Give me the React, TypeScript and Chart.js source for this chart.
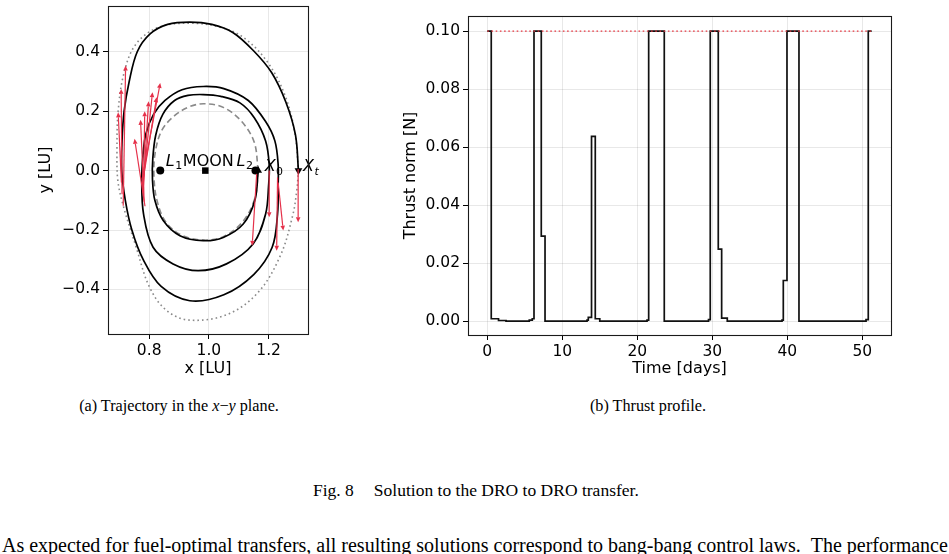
import { useEffect, useRef } from "react";
import { Chart, registerables } from "chart.js";

Chart.register(...registerables);

// ---------- Trajectory in the x–y plane (LU) ----------
const initialDro: [number, number][] = [
  [1.165, 0.0], [1.155, -0.09], [1.115, -0.17], [1.05, -0.222], [0.985, -0.234],
  [0.91, -0.218], [0.855, -0.172], [0.826, -0.1], [0.816, -0.02], [0.82, 0.06],
  [0.842, 0.135], [0.885, 0.185], [0.935, 0.215], [0.985, 0.225], [1.05, 0.212],
  [1.11, 0.165], [1.152, 0.095], [1.165, 0.0],
];

const targetDro: [number, number][] = [
  [1.3, 0.0], [1.294, -0.07], [1.281, -0.15], [1.24, -0.285], [1.165, -0.41],
  [1.06, -0.485], [0.931, -0.503], [0.855, -0.468], [0.8, -0.39], [0.757, -0.26],
  [0.713, -0.118], [0.695, -0.034], [0.692, 0.06], [0.696, 0.2], [0.716, 0.33],
  [0.755, 0.425], [0.83, 0.482], [0.936, 0.496], [1.04, 0.482], [1.12, 0.445],
  [1.2, 0.36], [1.258, 0.245], [1.289, 0.12], [1.3, 0.0],
];

const transferPath: [number, number][] = [
  // first revolution
  [1.165, 0.0], [1.154, -0.1], [1.115, -0.18], [1.048, -0.225], [0.981, -0.236],
  [0.903, -0.219], [0.847, -0.168], [0.819, -0.1], [0.811, -0.03], [0.812, 0.04],
  [0.822, 0.12], [0.846, 0.19], [0.885, 0.236], [0.93, 0.253], [0.981, 0.256],
  [1.04, 0.25], [1.104, 0.228], [1.152, 0.178], [1.19, 0.1], [1.202, 0.02],
  // second revolution
  [1.2, -0.05], [1.19, -0.146], [1.148, -0.247], [1.059, -0.314], [0.964, -0.337],
  [0.88, -0.314], [0.813, -0.258], [0.781, -0.146], [0.775, -0.034], [0.779, 0.05],
  [0.789, 0.124], [0.815, 0.19], [0.853, 0.236], [0.91, 0.272], [0.981, 0.283],
  [1.05, 0.276], [1.132, 0.236], [1.19, 0.165], [1.221, 0.1], [1.232, 0.02],
  // third revolution, arriving at the target orbit
  [1.232, -0.05], [1.23, -0.146], [1.212, -0.258], [1.15, -0.35], [1.05, -0.418],
  [0.936, -0.438], [0.84, -0.39], [0.78, -0.3], [0.742, -0.2], [0.72, -0.1],
  [0.708, 0.0], [0.709, 0.1], [0.716, 0.2], [0.733, 0.3], [0.76, 0.4],
  [0.803, 0.46], [0.862, 0.492], [0.936, 0.5], [1.01, 0.492], [1.08, 0.465],
  [1.148, 0.405], [1.21, 0.33], [1.258, 0.23], [1.29, 0.12], [1.3, 0.0],
];

// thrust direction arrows: [x tail, y tail, x head, y head]
const thrustArrows: [number, number, number, number][] = [
  [1.16, -0.011, 1.145, -0.253],
  [1.202, 0.0, 1.202, -0.157],
  [1.23, -0.023, 1.227, -0.27],
  [1.232, -0.04, 1.249, -0.202],
  [1.299, 0.005, 1.299, -0.174],
  [0.713, -0.118, 0.721, 0.354],
  [0.709, -0.08, 0.706, 0.275],
  [0.707, -0.04, 0.696, 0.196],
  [0.786, -0.12, 0.751, 0.107],
  [0.783, -0.105, 0.771, 0.171],
  [0.781, -0.09, 0.785, 0.2],
  [0.779, -0.075, 0.798, 0.233],
  [0.778, -0.06, 0.811, 0.264],
  [0.777, -0.045, 0.825, 0.247],
  [0.776, -0.03, 0.837, 0.295],
];

const librationX = [0.837, 1.156]; // L1, L2
const moonX = [0.988];
const departureState: [number, number] = [1.165, 0.0];
const arrivalState: [number, number] = [1.3, 0.0];

const trajXTicks = [0.8, 1.0, 1.2];
const trajYTicks = [-0.4, -0.2, 0.0, 0.2, 0.4];

// ---------- Thrust profile ----------
// piecewise-constant thrust: value holds from each time until the next one
const thrustTimes = [
  0, 0.53, 1.5, 2.5, 5.6, 6.0, 6.23, 7.2, 7.7, 13.3, 13.47, 13.9, 14.4, 15.0,
  21.3, 21.52, 23.6, 29.5, 29.73, 30.8, 31.25, 32.0, 39.3, 39.47, 39.96, 41.56,
  50.5, 50.8, 51.25,
];
const thrustValues = [
  0.1, 0.0008, 0.0002, 0.0, 0.0003, 0.0008, 0.1, 0.0293, 0.0, 0.0003, 0.0013, 0.0637, 0.0008, 0.0,
  0.0003, 0.1, 0.0, 0.0005, 0.1, 0.0248, 0.001, 0.0, 0.0003, 0.014, 0.1, 0.0,
  0.0005, 0.1, 0.1,
];
const thrustLimit = 0.1;
const thrustLimitSpan = [0, 51.25];

const timeTicks = [0, 10, 20, 30, 40, 50];
const thrustTicks = [0.0, 0.02, 0.04, 0.06, 0.08, 0.1];

// ---------- styling ----------
const SANS = "'DejaVu Sans', sans-serif";
const TICK_FONT = 15.5;
const TITLE_FONT = 16;
const ARROW_RED = "#e5314a";
const GRID = "rgba(0,0,0,0.09)";

const fmt = (v: number, digits: number) =>
  (Math.abs(v) < 1e-9 ? 0 : v).toFixed(digits).replace("-", "\u2212");

function linearAxis(
  horizontal: boolean,
  min: number,
  max: number,
  ticks: number[],
  digits: number,
  title: string,
  size: number,
  titlePad: number,
) {
  return {
    type: "linear" as const,
    position: horizontal ? "bottom" : "left",
    min,
    max,
    afterBuildTicks: (s: any) => {
      s.ticks = ticks.map((v) => ({ value: v }));
    },
    afterFit: (s: any) => {
      if (horizontal) s.height = size;
      else s.width = size;
      s.paddingTop = 0;
      s.paddingBottom = 0;
      s.paddingLeft = 0;
      s.paddingRight = 0;
    },
    grid: {
      color: GRID,
      lineWidth: 1,
      drawTicks: true,
      tickLength: 5,
      tickColor: "#000",
      tickWidth: 1,
    },
    border: { display: false },
    ticks: {
      callback: (v: number) => fmt(v, digits),
      font: { family: SANS, size: TICK_FONT },
      color: "#000",
      padding: 3,
      autoSkip: false,
      maxRotation: 0,
    },
    title: {
      display: true,
      text: title,
      color: "#000",
      font: { family: SANS, size: TITLE_FONT },
      padding: horizontal ? { top: 0, bottom: titlePad } : { top: titlePad, bottom: 0 },
    },
  };
}

const frameBox = {
  id: "frameBox",
  afterDraw(chart: any) {
    const { ctx, chartArea: a } = chart;
    ctx.save();
    ctx.strokeStyle = "#1a1a1a";
    ctx.lineWidth = 1.1;
    ctx.strokeRect(
      Math.round(a.left) + 0.5,
      Math.round(a.top) + 0.5,
      Math.round(a.right - a.left),
      Math.round(a.bottom - a.top),
    );
    ctx.restore();
  },
};

const arrowsPlugin = {
  id: "thrustArrows",
  afterDatasetsDraw(chart: any) {
    const { ctx, scales } = chart;
    const sx = scales.x;
    const sy = scales.y;
    ctx.save();
    ctx.strokeStyle = ARROW_RED;
    ctx.fillStyle = ARROW_RED;
    ctx.lineWidth = 1.2;
    for (const [x0, y0, x1, y1] of thrustArrows) {
      const px0 = sx.getPixelForValue(x0);
      const py0 = sy.getPixelForValue(y0);
      const px1 = sx.getPixelForValue(x1);
      const py1 = sy.getPixelForValue(y1);
      const ang = Math.atan2(py1 - py0, px1 - px0);
      const headLen = 5;
      const headW = 2.3;
      const bx = px1 - headLen * Math.cos(ang);
      const by = py1 - headLen * Math.sin(ang);
      ctx.beginPath();
      ctx.moveTo(px0, py0);
      ctx.lineTo(bx, by);
      ctx.stroke();
      ctx.beginPath();
      ctx.moveTo(px1, py1);
      ctx.lineTo(bx + headW * Math.sin(ang), by - headW * Math.cos(ang));
      ctx.lineTo(bx - headW * Math.sin(ang), by + headW * Math.cos(ang));
      ctx.closePath();
      ctx.fill();
    }
    ctx.restore();
  },
};

function drawSymbol(
  ctx: CanvasRenderingContext2D,
  main: string,
  sub: string,
  x: number,
  y: number,
  align: "left" | "right",
  subItalic: boolean,
) {
  const mainFont = `italic 16px ${SANS}`;
  const subFont = `${subItalic ? "italic " : ""}11px ${SANS}`;
  ctx.font = mainFont;
  const wMain = ctx.measureText(main).width;
  ctx.font = subFont;
  const wSub = ctx.measureText(sub).width;
  const start = align === "left" ? x : x - wMain - wSub - 1;
  ctx.textAlign = "left";
  ctx.font = mainFont;
  ctx.fillText(main, start, y);
  ctx.font = subFont;
  ctx.fillText(sub, start + wMain + 0.5, y + 3.5);
}

const labelsPlugin = {
  id: "orbitLabels",
  afterDatasetsDraw(chart: any) {
    const { ctx, scales } = chart;
    const sx = scales.x;
    const sy = scales.y;
    ctx.save();
    ctx.fillStyle = "#000";
    ctx.textBaseline = "alphabetic";
    const py = sy.getPixelForValue(0);
    drawSymbol(ctx, "L", "1", sx.getPixelForValue(librationX[0]) + 5.5, py - 5, "left", false);
    ctx.font = `16px ${SANS}`;
    ctx.textAlign = "center";
    ctx.fillText("MOON", sx.getPixelForValue(moonX[0]) + 3, py - 5);
    drawSymbol(ctx, "L", "2", sx.getPixelForValue(librationX[1]) - 2, py - 5, "right", false);
    drawSymbol(
      ctx, "X", "0",
      sx.getPixelForValue(departureState[0]) + 6.5,
      sy.getPixelForValue(departureState[1]) + 0.5,
      "left", false,
    );
    drawSymbol(
      ctx, "X", "t",
      sx.getPixelForValue(arrivalState[0]) + 4.5,
      sy.getPixelForValue(arrivalState[1]) + 0.5,
      "left", true,
    );
    ctx.restore();
  },
};

const toPoints = (pts: [number, number][]) => pts.map(([x, y]) => ({ x, y }));

function trajectoryConfig(): any {
  return {
    type: "scatter",
    data: {
      datasets: [
        {
          data: [{ x: arrivalState[0], y: arrivalState[1] }],
          pointStyle: "triangle",
          rotation: 180,
          pointRadius: 4.5,
          backgroundColor: "#000",
          borderColor: "#000",
          borderWidth: 0,
          order: 0,
        },
        {
          data: [{ x: departureState[0], y: departureState[1] }],
          pointStyle: "triangle",
          pointRadius: 4.5,
          backgroundColor: "#000",
          borderColor: "#000",
          borderWidth: 0,
          order: 1,
        },
        {
          data: librationX.map((x) => ({ x, y: 0 })),
          pointStyle: "circle",
          pointRadius: 4,
          backgroundColor: "#000",
          borderWidth: 0,
          order: 2,
        },
        {
          data: moonX.map((x) => ({ x, y: 0 })),
          pointStyle: "rect",
          pointRadius: 4.6,
          backgroundColor: "#000",
          borderWidth: 0,
          order: 3,
        },
        {
          data: toPoints(transferPath),
          showLine: true,
          tension: 0.35,
          borderColor: "#000",
          borderWidth: 1.7,
          pointRadius: 0,
          order: 4,
        },
        {
          data: toPoints(initialDro),
          showLine: true,
          tension: 0.35,
          borderColor: "#8a8a8a",
          borderDash: [6, 3.5],
          borderWidth: 1.6,
          pointRadius: 0,
          order: 5,
        },
        {
          data: toPoints(targetDro),
          showLine: true,
          tension: 0.35,
          borderColor: "#8a8a8a",
          borderDash: [1.6, 3],
          borderWidth: 1.6,
          pointRadius: 0,
          order: 6,
        },
      ],
    },
    options: {
      animation: false,
      responsive: false,
      events: [],
      layout: { padding: { left: 0, right: 12, top: 6, bottom: 0 } },
      plugins: { legend: { display: false }, tooltip: { enabled: false } },
      scales: {
        x: linearAxis(true, 0.662, 1.332, trajXTicks, 1, "x [LU]", 46, 1.4),
        y: linearAxis(false, -0.55, 0.554, trajYTicks, 1, "y [LU]", 108, 36.4),
      },
    },
    plugins: [arrowsPlugin, labelsPlugin, frameBox],
  };
}

function thrustConfig(): any {
  return {
    type: "scatter",
    data: {
      datasets: [
        {
          data: thrustLimitSpan.map((t) => ({ x: t, y: thrustLimit })),
          showLine: true,
          borderColor: "#e8343f",
          borderDash: [1.6, 2.6],
          borderWidth: 1.4,
          pointRadius: 0,
          order: 0,
        },
        {
          data: thrustTimes.map((t, i) => ({ x: t, y: thrustValues[i] })),
          showLine: true,
          stepped: true,
          borderColor: "#111",
          borderWidth: 1.7,
          pointRadius: 0,
          order: 1,
        },
      ],
    },
    options: {
      animation: false,
      responsive: false,
      events: [],
      layout: { padding: { left: 0, right: 9, top: 16, bottom: 0 } },
      plugins: { legend: { display: false }, tooltip: { enabled: false } },
      scales: {
        x: linearAxis(true, -2.57, 53.83, timeTicks, 0, "Time [days]", 45, 1.4),
        y: linearAxis(false, -0.0048, 0.1052, thrustTicks, 2, "Thrust norm [N]", 78, 11.4),
      },
    },
    plugins: [frameBox],
  };
}

function ChartCanvas({
  make,
  left,
  top,
  width,
  height,
}: {
  make: () => any;
  left: number;
  top: number;
  width: number;
  height: number;
}) {
  const ref = useRef<HTMLCanvasElement>(null);
  useEffect(() => {
    const chart = new Chart(ref.current as HTMLCanvasElement, make());
    return () => chart.destroy();
  }, [make]);
  return (
    <canvas
      ref={ref}
      width={width}
      height={height}
      style={{ position: "absolute", left, top, width, height }}
    />
  );
}

const SERIF = "'Liberation Serif', 'Times New Roman', serif";

export default function App() {
  return (
    <div
      style={{
        position: "absolute",
        left: 0,
        top: 0,
        width: 949,
        height: 554,
        background: "#fff",
        overflow: "hidden",
        fontFamily: SERIF,
        color: "#000",
      }}
    >
      <ChartCanvas make={trajectoryConfig} left={0} top={0} width={320} height={380} />
      <ChartCanvas make={thrustConfig} left={390} top={0} width={510} height={380} />
      <div
        style={{
          position: "absolute",
          left: 0,
          width: 358,
          top: 396,
          textAlign: "center",
          fontSize: 16.2,
          lineHeight: "20px",
          whiteSpace: "nowrap",
        }}
      >
        (a) Trajectory in the <i>x</i>−<i>y</i> plane.
      </div>
      <div
        style={{
          position: "absolute",
          left: 548,
          width: 200,
          top: 396,
          textAlign: "center",
          fontSize: 16.2,
          lineHeight: "20px",
          whiteSpace: "nowrap",
        }}
      >
        (b) Thrust profile.
      </div>
      <div
        style={{
          position: "absolute",
          left: 313,
          top: 480,
          fontSize: 17.5,
          lineHeight: "20px",
          whiteSpace: "nowrap",
        }}
      >
        Fig. 8<span style={{ display: "inline-block", width: 20 }} />Solution to the DRO to DRO transfer.
      </div>
      <div
        style={{
          position: "absolute",
          left: 2,
          top: 534,
          fontSize: 20,
          lineHeight: "22px",
          whiteSpace: "nowrap",
        }}
      >
        As expected for fuel-optimal transfers, all resulting solutions correspond to bang-bang control laws. &nbsp;The performance
      </div>
    </div>
  );
}
